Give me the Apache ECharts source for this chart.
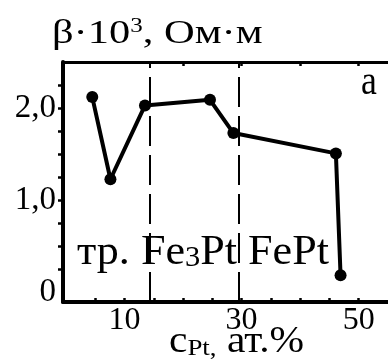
<!DOCTYPE html>
<html>
<head>
<meta charset="utf-8">
<script src="https://cdn.jsdelivr.net/npm/echarts@6/dist/echarts.min.js"></script>
<style>
  html, body { margin: 0; padding: 0; background: #fff; }
  #chart { width: 388px; height: 361px; }
</style>
</head>
<body>
<div id="chart"></div>
<script>
// Platinum content, at.%
const cPt = [4.5, 7.6, 13.5, 24.6, 28.6, 46.1, 46.9];
// beta * 10^3, Ohm*m
const beta = [2.12, 1.23, 2.03, 2.09, 1.73, 1.51, 0.19];
// phase boundaries (dashed verticals)
const boundaries = [14.3, 29.5];
// axis ticks and labels
const xTicks = [5, 10, 15, 20, 25, 30, 35, 40, 45, 50];
const xLabels = [10, 30, 50];
const topTicks = [20, 30, 40, 50];
const yTicks = [0.25, 0.5, 0.75, 1, 1.25, 1.5, 1.75, 2, 2.25];
const yLabels = [0, 1, 2];
const yLabelText = { 0: '0', 1: '1,0', 2: '2,0' };

const FONT = '"Liberation Serif", "Times New Roman", serif';
const chart = echarts.init(document.getElementById('chart'));

// text placed by its top-left corner, optionally widened
function label(x, y, text, rich, scaleX) {
  return {
    type: 'text', x: x, y: y, scaleX: scaleX || 1,
    style: { text: text, rich: rich, align: 'left', verticalAlign: 'top' }
  };
}

chart.setOption({
  animation: false,
  backgroundColor: '#fff',
  grid: { left: 63, top: 62, width: 332, height: 240 },
  xAxis: [{
    type: 'value', min: -0.5, max: 55, position: 'bottom',
    splitLine: { show: false },
    axisLine: { show: true, onZero: false, lineStyle: { color: '#000', width: 4 } },
    axisTick: { show: true, inside: true, length: 4, customValues: xTicks,
      lineStyle: { color: '#000', width: 2.5 } },
    axisLabel: { customValues: xLabels, margin: 3,
      color: '#000', fontFamily: FONT, fontSize: 32 }
  }, {
    type: 'value', min: -0.5, max: 55, position: 'top',
    splitLine: { show: false },
    axisLine: { show: true, onZero: false, lineStyle: { color: '#000', width: 3 } },
    axisTick: { show: true, inside: true, length: 4, customValues: topTicks,
      lineStyle: { color: '#000', width: 2.5 } },
    axisLabel: { show: false }
  }],
  yAxis: {
    type: 'value', min: -0.1, max: 2.5,
    splitLine: { show: false },
    axisLine: { show: true, onZero: false, lineStyle: { color: '#000', width: 4 } },
    axisTick: { show: true, inside: false, length: 5, customValues: yTicks,
      lineStyle: { color: '#000', width: 2.5 } },
    axisLabel: { customValues: yLabels, margin: 7,
      formatter: v => yLabelText[v],
      color: '#000', fontFamily: FONT, fontSize: 33 }
  },
  series: [{
    type: 'line',
    data: cPt.map((x, i) => [x, beta[i]]),
    symbol: 'circle', symbolSize: 12,
    itemStyle: { color: '#000' },
    lineStyle: { color: '#000', width: 4 },
    z: 5,
    markLine: {
      silent: true, symbol: 'none',
      label: { show: false },
      lineStyle: { color: '#000', width: 2, type: [30, 9] },
      data: boundaries.map(v => ({ xAxis: v }))
    }
  }],
  graphic: [
    label(52, 17, '{m|β·10}{s|3}{m|, Ом·м}', {
      m: { fontFamily: FONT, fontSize: 34, fill: '#000' },
      s: { fontFamily: FONT, fontSize: 20, fill: '#000', verticalAlign: 'top', padding: [0, 0, 14, 0] }
    }, 1.25),
    label(361, 62, '{m|а}', {
      m: { fontFamily: FONT, fontSize: 42, fill: '#000' }
    }, 0.85),
    label(77, 232, '{m|тр. Fe}{s|3}{m|Pt FePt}', {
      m: { fontFamily: FONT, fontSize: 42, fill: '#000' },
      s: { fontFamily: FONT, fontSize: 29, fill: '#000', padding: [10, 0, 0, 0] }
    }, 1.05),
    label(169, 324, '{m|c}{s|Pt,}{m| ат.%}', {
      m: { fontFamily: FONT, fontSize: 37, fill: '#000' },
      s: { fontFamily: FONT, fontSize: 24, fill: '#000', padding: [12, 0, 0, 0] }
    }, 1.12)
  ]
});
</script>
</body>
</html>
